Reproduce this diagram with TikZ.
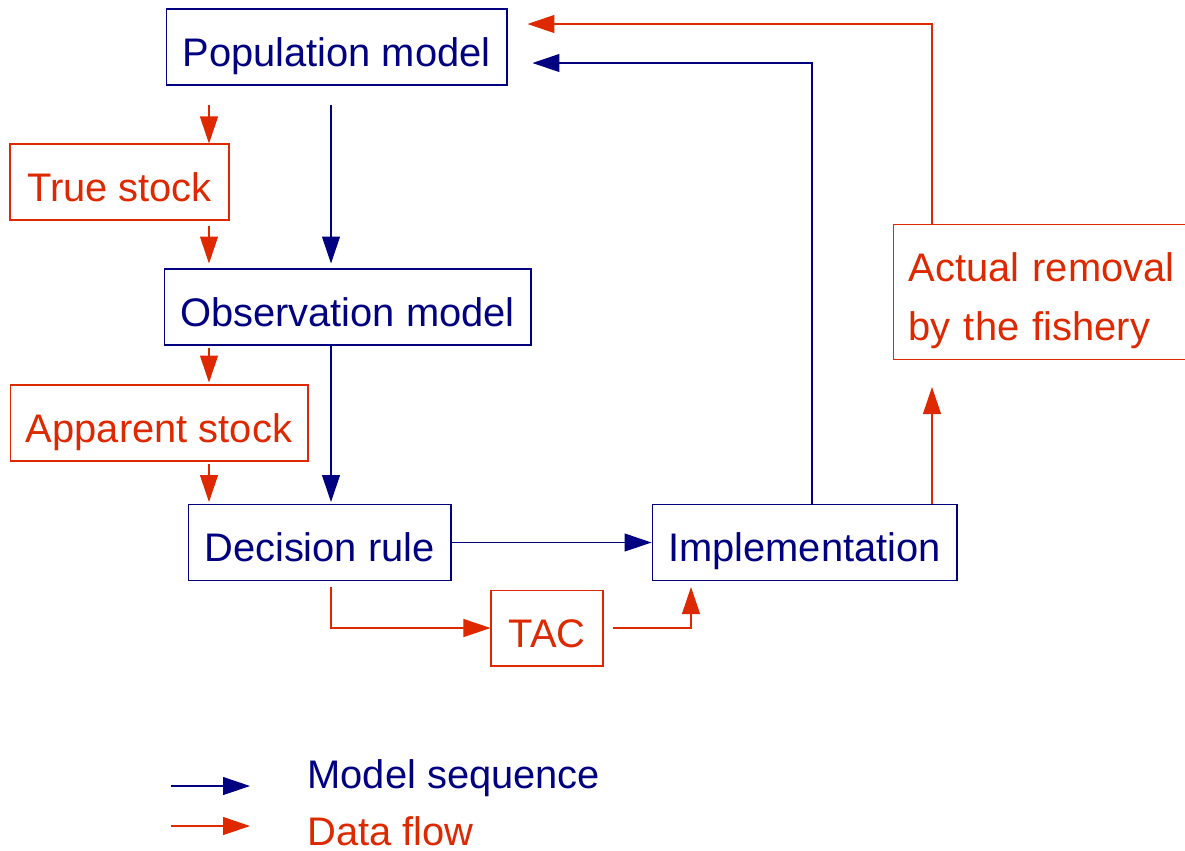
\documentclass[tikz,border=0pt]{standalone}
\usepackage{fontspec}
\setmainfont{Liberation Sans}
\usepackage{tikz}
\usetikzlibrary{positioning, calc, arrows.meta}

\definecolor{seqblue}{RGB}{0,0,128}
\definecolor{flowred}{RGB}{221,40,0}

\begin{document}
\begin{tikzpicture}[x=0.02cm, y=-0.02cm,
    line width=0.6pt,
    font=\fontsize{22.7pt}{27pt}\selectfont,
    tip/.style={-{Triangle[length=0.54cm, width=0.36cm]}},
    seqbox/.style={draw=seqblue, text=seqblue, minimum height=1.52cm,
                   text height=0.76cm, text depth=0pt},
    flowbox/.style={draw=flowred, text=flowred, minimum height=1.52cm,
                    text height=0.76cm, text depth=0pt},
    seq/.style={draw=seqblue, tip, seqblue},
    flow/.style={draw=flowred, tip, flowred}]

        \clip (0,0) rectangle (1185,850);

        % ===================================================
        % Boxes
        % ===================================================
        \node[seqbox, minimum width=6.82cm] (pop) at (336.5,47) {Population model};
        \node[flowbox, minimum width=4.38cm] (true) at (119.5,182) {True stock};
        \node[seqbox, minimum width=7.34cm] (obs) at (347.5,307) {Observation model};
        \node[flowbox, minimum width=5.96cm] (app) at (159,423) {Apparent stock};
        \node[seqbox, minimum width=5.26cm] (dec) at (319.5,542.5) {Decision rule};
        \node[seqbox, minimum width=6.1cm] (impl) at (804.5,542.5) {Implementation};
        \node[flowbox, minimum width=2.24cm] (tac) at (547,628) {TAC};
        \node[draw=flowred, text=flowred, anchor=north west, minimum height=2.7cm,
              text width=7cm, inner xsep=0.3cm, align=left,
              font=\fontsize{22.7pt}{33.6pt}\selectfont] (act) at (893,224)
              {\rule{0pt}{0.92cm}Actual removal\\by the fishery};

        % ===================================================
        % Columns of the arrows
        % ===================================================
        \coordinate (rx) at (209,0);
        \coordinate (bx) at (331,0);
        \coordinate (ix) at (691,0);
        \coordinate (mx) at (812,0);
        \coordinate (ax) at (932,0);
        \coordinate (hb) at (0,63);
        \coordinate (hr) at (0,24);

        % ===================================================
        % Left column
        % ===================================================
        \draw[flow, shorten <=0.38cm] (pop.south -| rx) -- (true.north -| rx);
        \draw[flow, shorten <=0.1cm, shorten >=0.1cm] (true.south -| rx) -- (obs.north -| rx);
        \draw[flow, shorten <=0.04cm, shorten >=0.04cm] (obs.south -| rx) -- (app.north -| rx);
        \draw[flow, shorten <=0.04cm, shorten >=0.04cm] (app.south -| rx) -- (dec.north -| rx);
        \draw[seq, shorten <=0.38cm, shorten >=0.1cm] (pop.south -| bx) -- (obs.north -| bx);
        \draw[seq, shorten >=0.04cm] (obs.south -| bx) -- (dec.north -| bx);

        % ===================================================
        % Bottom row
        % ===================================================
        \draw[seq] (dec.east) -- (impl.west);
        \draw[flow, shorten <=0.12cm] (dec.south -| bx) |- (tac.west);
        \draw[flow, shorten <=0.18cm, shorten >=0.12cm] (tac.east) -| (impl.south -| ix);

        % ===================================================
        % Feedback loops
        % ===================================================
        \draw[seq, shorten >=0.5cm] (impl.north -| mx) |- (pop.east |- hb);
        \draw[flow, shorten >=0.54cm] (impl.north -| ax) -- (act.south -| ax);
        \draw[flow, shorten >=0.4cm] (act.north -| ax) |- (pop.east |- hr);

        % ===================================================
        % Legend
        % ===================================================
        \coordinate (lb1) at (171,786);
        \coordinate (lb2) at (250,786);
        \coordinate (lr1) at (171,826);
        \coordinate (lr2) at (250,826);
        \draw[seq] (lb1) -- (lb2);
        \draw[flow] (lr1) -- (lr2);
        \node[anchor=base west, text=seqblue, inner sep=0pt] (lgseq) at (307,788) {Model sequence};
        \node[anchor=base west, text=flowred, inner sep=0pt] (lgflow) at (307,845) {Data flow};

    \end{tikzpicture}
\end{document}
